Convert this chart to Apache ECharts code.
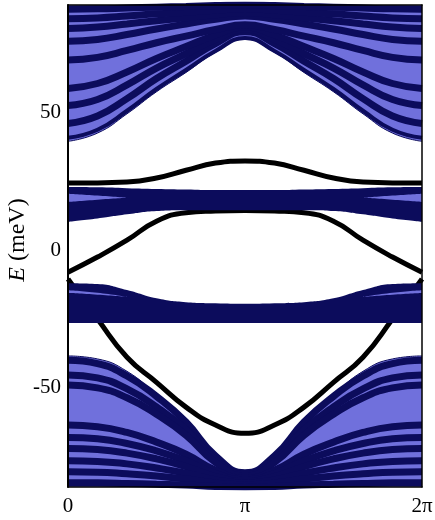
<!DOCTYPE html>
<html><head><meta charset="utf-8">
<script src="https://cdn.jsdelivr.net/npm/echarts@6/dist/echarts.min.js"></script>
<style>html,body{margin:0;padding:0;background:#fff}#c{width:435px;height:520px}</style>
</head><body><div id="c"></div>
<script>
// k in units of pi/6 : 0 .. 2pi
const kSteps = ['0','1','2','3','4','5','6','7','8','9','10','11','12'];
const xTickLabels = ['0', 'π', '2π'];
const yTickValues = [-50, 0, 50];
const yAxisTitle = '{it|E} (meV)';

// edge states (meV)
const edgeUpper = [24.4, 24.4, 24.7, 26.2, 29.0, 31.6, 32.4, 31.6, 29.0, 26.2, 24.7, 24.4, 24.4];
const edgeMid   = [-8.0, -2.5, 3.6, 10.5, 13.6, 14.2, 14.4, 14.2, 13.6, 10.5, 3.6, -2.5, -8.0];
const edgeLower = [-10.5, -25.0, -38.9, -48.0, -57.0, -63.5, -66.5, -63.5, -57.0, -48.0, -38.9, -25.0, -10.5];

// upper bulk continuum: lower boundary + band lines
const upperBulkEdge = [39.5, 42.5, 49.5, 57.5, 64.5, 71.8, 76.5, 71.8, 64.5, 57.5, 49.5, 42.5, 39.5];
const upperBoundaryBand = [40.8, 43.7, 50.6, 58.5, 65.4, 72.3, 77.0, 72.3, 65.4, 58.5, 50.6, 43.7, 40.8];
const upperBands = [
  [46.0, 48.7, 55.0, 62.3, 68.6, 75.0, 79.3, 75.0, 68.6, 62.3, 55.0, 48.7, 46.0],
  [52.5, 54.7, 60.0, 66.1, 71.3, 76.6, 80.2, 76.6, 71.3, 66.1, 60.0, 54.7, 52.5],
  [58.7, 60.5, 64.7, 69.6, 73.9, 78.1, 81.0, 78.1, 73.9, 69.6, 64.7, 60.5, 58.7],
  [69.0, 70.0, 72.5, 75.3, 77.7, 80.1, 81.8, 80.1, 77.7, 75.3, 72.5, 70.0, 69.0],
  [75.8, 76.5, 78.3, 80.3, 82.1, 83.8, 85.0, 83.8, 82.1, 80.3, 78.3, 76.5, 75.8],
  [80.5, 81.0, 82.1, 83.3, 84.4, 85.5, 86.3, 85.5, 84.4, 83.3, 82.1, 81.0, 80.5],
  [84.0, 84.3, 85.0, 85.8, 86.4, 87.1, 87.6, 87.1, 86.4, 85.8, 85.0, 84.3, 84.0],
  [87.5, 87.6, 87.9, 88.2, 88.5, 88.8, 89.0, 88.8, 88.5, 88.2, 87.9, 87.6, 87.5]
];

// middle bulk bands
const midUpTop = [22.9, 22.8, 22.5, 22.2, 22.0, 21.8, 21.8, 21.8, 22.0, 22.2, 22.5, 22.8, 22.9];
const midUpBot = [10.3, 11.5, 13.0, 14.2, 14.5, 14.5, 14.5, 14.5, 14.5, 14.2, 13.0, 11.5, 10.3];
const midLoTop = [-12.0, -12.3, -14.5, -17.5, -18.9, -19.3, -19.5, -19.3, -18.9, -17.5, -14.5, -12.3, -12.0];
const midLoBot = [-26.5, -26.5, -26.5, -26.5, -26.5, -26.5, -26.5, -26.5, -26.5, -26.5, -26.5, -26.5, -26.5];

// light slivers inside the middle bands (near k=0 and k=2pi)
const midUpSliverLow  = [17.5, 18.3, 19.0, null, null, null, null, null, null, null, 19.0, 18.3, 17.5];
const midUpSliverHigh = [20.5, 19.8, 19.0, null, null, null, null, null, null, null, 19.0, 19.8, 20.5];
const midLoSliverLow  = [-15.6, -16.2, -17.0, null, null, null, null, null, null, null, -17.0, -16.2, -15.6];
const midLoSliverHigh = [-14.6, -15.5, -17.0, null, null, null, null, null, null, null, -17.0, -15.5, -14.6];

// lower bulk continuum: upper boundary + band lines
const lowerBulkEdge = [-38.4, -39.5, -44.0, -52.5, -61.5, -73.5, -80.0, -73.5, -61.5, -52.5, -44.0, -39.5, -38.4];
const lowerBands = [
  [-40.0, -41.2, -45.7, -53.1, -62.4, -74.7, -80.8, -74.7, -62.4, -53.1, -45.7, -41.2, -40.0],
  [-45.3, -46.4, -50.4, -56.9, -65.2, -76.1, -81.5, -76.1, -65.2, -56.9, -50.4, -46.4, -45.3],
  [-49.0, -50.0, -53.6, -59.6, -67.2, -77.1, -82.0, -77.1, -67.2, -59.6, -53.6, -50.0, -49.0],
  [-63.5, -64.1, -66.2, -69.7, -74.1, -79.9, -82.8, -79.9, -74.1, -69.7, -66.2, -64.1, -63.5],
  [-68.0, -68.5, -70.2, -72.9, -76.5, -81.1, -83.4, -81.1, -76.5, -72.9, -70.2, -68.5, -68.0],
  [-72.0, -72.4, -73.7, -75.8, -78.6, -82.2, -84.0, -82.2, -78.6, -75.8, -73.7, -72.4, -72.0],
  [-76.5, -76.7, -77.6, -79.1, -81.0, -83.4, -84.6, -83.4, -81.0, -79.1, -77.6, -76.7, -76.5],
  [-80.5, -80.6, -81.2, -82.0, -83.1, -84.5, -85.2, -84.5, -83.1, -82.0, -81.2, -80.6, -80.5],
  [-84.5, -84.5, -84.7, -85.0, -85.3, -85.8, -86.0, -85.8, -85.3, -85.0, -84.7, -84.5, -84.5]
];

const DARK = '#0c0c5c';
const LIGHT = '#7070dc';
const FONT = '"Liberation Serif", "Times New Roman", serif';

function lineSeries(ys, color, width, z) {
  return { type: 'line', data: ys, smooth: true, symbol: 'none', silent: true,
    lineStyle: { color: color, width: width }, z: z, animation: false };
}
function bandFill(lower, upper, color, z, id) {
  return [
    { type: 'line', stack: id, stackStrategy: 'all', data: lower, smooth: true, symbol: 'none', silent: true,
      lineStyle: { opacity: 0 }, z: z, animation: false },
    { type: 'line', stack: id, stackStrategy: 'all',
      data: upper.map((u, i) => (u == null || lower[i] == null) ? null : u - lower[i]),
      smooth: true, symbol: 'none', silent: true,
      lineStyle: { opacity: 0 }, areaStyle: { color: color, opacity: 1 }, z: z, animation: false }
  ];
}

const series = [];
// edge states (underneath the bulk bands)
series.push(lineSeries(edgeUpper, '#000', 5, 1));
series.push(lineSeries(edgeMid, '#000', 5, 1));
series.push(lineSeries(edgeLower, '#000', 5, 1));

// upper bulk fill
series.push({ type: 'line', data: upperBulkEdge, smooth: true, symbol: 'none', silent: true,
  lineStyle: { color: DARK, width: 1 }, areaStyle: { color: LIGHT, opacity: 1, origin: 'end' }, z: 2, animation: false });
series.push(lineSeries(upperBoundaryBand, DARK, 4, 3));
upperBands.forEach(b => series.push(lineSeries(b, DARK, 7, 3)));

// lower bulk fill
series.push({ type: 'line', data: lowerBulkEdge, smooth: true, symbol: 'none', silent: true,
  lineStyle: { color: DARK, width: 1 }, areaStyle: { color: LIGHT, opacity: 1, origin: 'start' }, z: 2, animation: false });
lowerBands.forEach(b => series.push(lineSeries(b, DARK, 7, 3)));

// middle bands
series.push(...bandFill(midUpBot, midUpTop, DARK, 4, 'mu'));
series.push(...bandFill(midLoBot, midLoTop, DARK, 4, 'ml'));
series.push(...bandFill(midUpSliverLow, midUpSliverHigh, LIGHT, 5, 's1'));
series.push(...bandFill(midLoSliverLow, midLoSliverHigh, LIGHT, 5, 's2'));

const chart = echarts.init(document.getElementById('c'), null, { renderer: 'canvas' });
const axisLineStyle = w => ({ show: true, onZero: false, lineStyle: { color: '#000', width: w } });
chart.setOption({
  animation: false,
  backgroundColor: '#fff',
  grid: { left: 68, right: 13, top: 5, bottom: 33, containLabel: false, outerBoundsMode: 'none' },
  graphic: [{
    type: 'text', x: 18, y: 240, rotation: Math.PI / 2, silent: true,
    style: { text: yAxisTitle, fill: '#000', font: '24px ' + FONT, align: 'center', verticalAlign: 'middle',
      rich: { it: { fontStyle: 'italic', fontFamily: FONT, fontSize: 24, fill: '#000' } } }
  }],
  xAxis: [
    { type: 'category', data: kSteps, boundaryGap: false, position: 'bottom', z: 10,
      axisLine: axisLineStyle(1.5), axisTick: { show: false }, splitLine: { show: false },
      axisLabel: { interval: (i) => i % 6 === 0, formatter: (v, i) => xTickLabels[i / 6],
        margin: 9, color: '#000', fontFamily: FONT, fontSize: 21 } },
    { type: 'category', data: kSteps, boundaryGap: false, position: 'top', z: 10,
      axisLine: axisLineStyle(1.5), axisTick: { show: false }, splitLine: { show: false }, axisLabel: { show: false } }
  ],
  yAxis: [
    { type: 'value', position: 'left', min: -86, max: 89, z: 10,
      axisLine: axisLineStyle(2), splitLine: { show: false },
      axisTick: { inside: true, length: 14, customValues: yTickValues, lineStyle: { color: '#000', width: 1 } },
      axisLabel: { customValues: yTickValues, margin: 7, color: '#000', fontFamily: FONT, fontSize: 21 } },
    { type: 'value', position: 'right', min: -86, max: 89, z: 10,
      axisLine: axisLineStyle(1.5), splitLine: { show: false },
      axisTick: { inside: true, length: 14, customValues: yTickValues, lineStyle: { color: '#000', width: 1 } },
      axisLabel: { show: false } }
  ],
  series: series
});
</script></body></html>
